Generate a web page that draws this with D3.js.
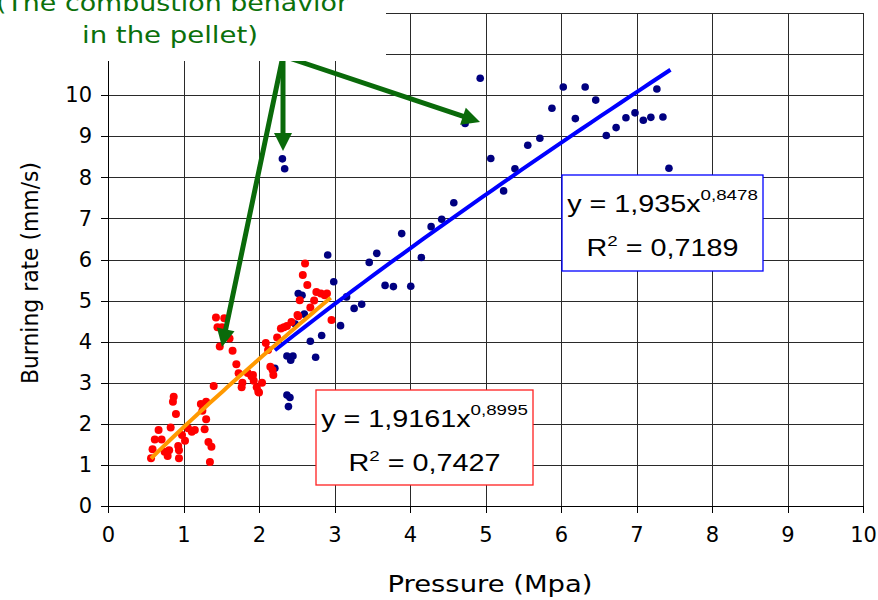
<!DOCTYPE html>
<html>
<head>
<meta charset="utf-8">
<script src="https://cdn.jsdelivr.net/npm/d3@7"></script>
<style>
  body { margin: 0; background: #fff; }
  svg { display: block; }
  .grid line { stroke: #2a2a2a; stroke-width: 1; shape-rendering: crispEdges; }
  .grid path { display: none; }
  .axis path, .axis line { stroke: #000; shape-rendering: crispEdges; }
  .axis text { font-family: "Comic Sans MS", "DejaVu Sans", sans-serif; font-size: 21px; fill: #000; }
  .title { font-family: "Comic Sans MS", "DejaVu Sans", sans-serif; font-size: 23px; fill: #000; }
  .eq { font-family: "Liberation Sans", Arial, sans-serif; font-size: 23px; fill: #000; }
  .note { font-family: "Comic Sans MS", "DejaVu Sans", sans-serif; font-size: 23px; fill: #0b700b; }
</style>
</head>
<body>
<div id="chart-area"></div>
<script>
// data
const redPressure = [0.57, 0.59, 0.62, 0.67, 0.71, 0.75, 0.79, 0.81, 0.83, 0.86, 0.87, 0.90, 0.93, 0.94, 0.94,
  0.98, 1.02, 1.06, 1.11, 1.15, 1.23, 1.25, 1.30, 1.28, 1.33, 1.37, 1.35, 1.40, 1.30,
  1.43, 1.54, 1.45, 1.51, 1.61, 1.48, 1.65, 1.70, 1.73, 1.78, 1.77, 1.85, 1.90, 1.93, 1.97, 2.00, 2.04,
  2.09, 2.12, 2.15, 2.19, 2.18, 2.24, 2.33, 2.37, 2.43, 2.51, 2.54, 2.61, 2.58, 2.64, 2.68, 2.73, 2.76,
  2.82, 2.87, 2.90, 2.96, 1.99, 1.92, 2.29, 2.52];
const redRate = [1.16, 1.38, 1.62, 1.85, 1.62, 1.32, 1.22, 1.36, 1.91, 2.54, 2.66, 2.24, 1.46, 1.36, 1.16,
  1.73, 1.59, 1.89, 1.81, 1.85, 2.48, 2.32, 2.11, 1.87, 1.56, 1.44, 1.07, 2.92, 2.54,
  4.59, 4.57, 4.35, 4.35, 4.08, 3.88, 3.78, 3.45, 3.23, 3.00, 2.89, 3.24, 3.16, 3.05, 2.89, 2.76, 3.00,
  3.97, 3.80, 3.39, 3.19, 3.31, 4.10, 4.35, 4.38, 4.48, 4.65, 5.01, 5.90, 5.62, 5.38, 4.83, 5.00, 5.21,
  5.17, 5.13, 5.17, 4.53, 2.78, 3.19, 4.32, 4.62];

const bluePressure = [2.31, 2.34, 2.91, 2.99, 2.52, 2.57, 3.16, 3.26, 3.36, 3.46, 3.56, 3.67, 3.78, 3.89,
  4.01, 4.15, 4.28, 4.42, 4.58, 4.73, 4.93, 5.07, 5.24, 5.39, 5.56, 5.72, 5.88, 6.03, 6.19, 6.32,
  6.46, 6.60, 6.73, 6.86, 6.98, 7.09, 7.19, 7.27, 7.35, 7.43, 3.08, 2.83, 2.68, 2.75, 2.37, 2.45,
  2.42, 2.21, 2.37, 2.41, 2.39, 2.60, 2.48];
const blueRate = [8.45, 8.21, 6.11, 5.46, 5.17, 5.13, 5.09, 4.81, 4.91, 5.93, 6.15, 5.37, 5.34, 6.63,
  5.35, 6.05, 6.80, 6.98, 7.38, 9.31, 10.41, 8.46, 7.67, 8.21, 8.78, 8.95, 9.68, 10.20, 9.43, 10.20,
  9.88, 9.02, 9.21, 9.45, 9.57, 9.39, 9.46, 10.15, 9.47, 8.22, 4.39, 4.15, 4.01, 3.62, 3.65, 3.65,
  3.55, 3.35, 2.70, 2.64, 2.42, 4.67, 4.43];

// power trend lines y = a * x^b, as printed on the chart
const redFit = { a: 1.9161, b: 0.8995, from: 0.57, to: 2.95 };
const blueFit = { a: 1.935, b: 0.8478, from: 2.21, to: 7.45 };

const xTicks = [0, 1, 2, 3, 4, 5, 6, 7, 8, 9, 10];
const yTicks = [0, 1, 2, 3, 4, 5, 6, 7, 8, 9, 10, 11];
const yGrid = [1, 2, 3, 4, 5, 6, 7, 8, 9, 10, 11, 12];

const width = 878, height = 600;

const svg = d3.select("#chart-area").append("svg")
  .attr("width", width)
  .attr("height", height);

const x = d3.scaleLinear().domain([0, 10]).range([108, 863]);
const y = d3.scaleLinear().domain([0, 12]).range([506, 13]);

// grid
svg.append("g").attr("class", "grid")
  .attr("transform", `translate(0,${y(0)})`)
  .call(d3.axisBottom(x).tickValues(xTicks.slice(1)).tickSize(-(y(0) - y(12))).tickFormat(""));
svg.append("g").attr("class", "grid")
  .attr("transform", `translate(${x(0)},0)`)
  .call(d3.axisLeft(y).tickValues(yGrid).tickSize(-(x(10) - x(0))).tickFormat(""));

// axes
const xAxis = svg.append("g").attr("class", "axis")
  .attr("transform", `translate(0,${y(0)})`)
  .call(d3.axisBottom(x).tickValues(xTicks).tickSize(7).tickPadding(14).tickSizeOuter(0));
xAxis.select(".domain").attr("stroke-width", 1.5);

const yAxis = svg.append("g").attr("class", "axis")
  .attr("transform", `translate(${x(0)},0)`)
  .call(d3.axisLeft(y).tickValues(yTicks).tickSize(7).tickPadding(9).tickSizeOuter(0));
yAxis.select(".domain").attr("d", `M0,${y(0)}V${y(12)}`);

// axis titles
svg.append("text").attr("class", "title")
  .attr("x", 490).attr("y", 592)
  .attr("text-anchor", "middle")
  .attr("textLength", 205).attr("lengthAdjust", "spacingAndGlyphs")
  .text("Pressure (Mpa)");

svg.append("text").attr("class", "title")
  .attr("transform", "translate(38,273) rotate(-90)")
  .attr("text-anchor", "middle")
  .attr("textLength", 222).attr("lengthAdjust", "spacingAndGlyphs")
  .text("Burning rate (mm/s)");

// points
svg.append("g").selectAll("circle")
  .data(bluePressure.map((p, i) => [p, blueRate[i]]))
  .join("circle")
  .attr("cx", d => x(d[0])).attr("cy", d => y(d[1]))
  .attr("r", 3.8).attr("fill", "#000080");

svg.append("g").selectAll("circle")
  .data(redPressure.map((p, i) => [p, redRate[i]]))
  .join("circle")
  .attr("cx", d => x(d[0])).attr("cy", d => y(d[1]))
  .attr("r", 4).attr("fill", "#ff0000");

// trend lines
function trend(fit) {
  return d3.range(0, 41).map(i => {
    const p = fit.from + (fit.to - fit.from) * i / 40;
    return [p, fit.a * Math.pow(p, fit.b)];
  });
}
const line = d3.line().x(d => x(d[0])).y(d => y(d[1]));

svg.append("path").datum(trend(blueFit))
  .attr("d", line).attr("fill", "none")
  .attr("stroke", "#0000ff").attr("stroke-width", 4);
svg.append("path").datum(trend(redFit))
  .attr("d", line).attr("fill", "none")
  .attr("stroke", "#ff9900").attr("stroke-width", 4);

// equation boxes
function eqBox(bx, by, bw, bh, color, coef, expo, r2) {
  const g = svg.append("g");
  g.append("rect")
    .attr("x", bx).attr("y", by).attr("width", bw).attr("height", bh)
    .attr("fill", "#fff").attr("stroke", color).attr("stroke-width", 1.3);
  const cx = bx + bw / 2;
  const t1 = g.append("text").attr("class", "eq")
    .attr("text-anchor", "middle")
    .attr("transform", `translate(${cx},${by + 37}) scale(1.25,1)`);
  t1.append("tspan").text("y = " + coef + "x");
  t1.append("tspan").attr("dy", -12).attr("font-size", 15).text(expo);
  const t2 = g.append("text").attr("class", "eq")
    .attr("text-anchor", "middle")
    .attr("transform", `translate(${cx},${by + 81}) scale(1.25,1)`);
  t2.append("tspan").text("R");
  t2.append("tspan").attr("dy", -10).attr("font-size", 15).text("2");
  t2.append("tspan").attr("dy", 10).text(" = " + r2);
}
eqBox(316, 390, 217, 95, "#ff2020", "1,9161", "0,8995", "0,7427");
eqBox(562, 175, 201, 96, "#0000ff", "1,935", "0,8478", "0,7189");

// arrows
const green = "#0a6a0a";
const apex = [283, 56];
const tips = [[222, 347], [283, 151], [480, 122]];
tips.forEach(t => {
  const dx = t[0] - apex[0], dy = t[1] - apex[1];
  const len = Math.sqrt(dx * dx + dy * dy);
  const ux = dx / len, uy = dy / len;
  const headLen = 18, headW = 9;
  const bx = t[0] - ux * headLen, by = t[1] - uy * headLen;
  svg.append("line")
    .attr("x1", apex[0]).attr("y1", apex[1])
    .attr("x2", bx + ux * 2).attr("y2", by + uy * 2)
    .attr("stroke", green).attr("stroke-width", 5)
    .attr("stroke-linecap", "round");
  svg.append("path")
    .attr("d", `M${t[0]},${t[1]}L${bx - uy * headW},${by + ux * headW}L${bx + uy * headW},${by - ux * headW}Z`)
    .attr("fill", green);
});

// annotation box (its first line is cut by the top edge, as in the source)
svg.append("rect")
  .attr("x", 0).attr("y", 0).attr("width", 386).attr("height", 61)
  .attr("fill", "#fff");
svg.append("text").attr("class", "note")
  .attr("x", 172).attr("y", 11).attr("text-anchor", "middle")
  .attr("textLength", 352).attr("lengthAdjust", "spacingAndGlyphs")
  .text("(The combustion behavior");
svg.append("text").attr("class", "note")
  .attr("x", 170).attr("y", 43).attr("text-anchor", "middle")
  .attr("textLength", 176).attr("lengthAdjust", "spacingAndGlyphs")
  .text("in the pellet)");
</script>
</body>
</html>
